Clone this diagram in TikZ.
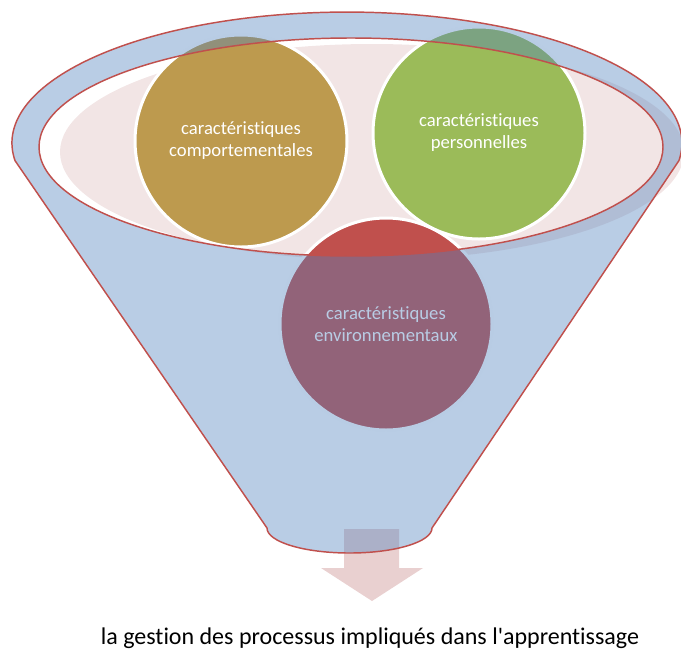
\documentclass[tikz,border=0pt]{standalone}
\usepackage{fontspec}
\setmainfont{Carlito}[Ligatures={NoCommon}]
\definecolor{blueov}{HTML}{4F81BD}
\definecolor{redc}{HTML}{C0504D}
\definecolor{goldc}{HTML}{BD9A4E}
\definecolor{greenc}{HTML}{9BBB59}
\definecolor{pinkc}{HTML}{F2E5E5}
\definecolor{arrowc}{HTML}{E9D0D0}
\begin{document}
\begin{tikzpicture}[x=0.75pt,y=-0.75pt,
  circ/.style={circle, minimum size=159pt, inner sep=0pt, outer sep=0pt,
    draw=white, line width=2.25pt, text=white, align=center,
    font=\fontsize{14}{16.5}\selectfont},
  outline/.style={draw=redc, line width=1.1pt}]
\useasboundingbox (0,0) rectangle (681,651);
\def\funnelpath{(15,160.6) arc[start angle=172.3, end angle=367.7, x radius=335, y radius=131] -- (432,528) arc[start angle=0, end angle=180, x radius=82.5, y radius=25] -- cycle}
% block arrow
\fill[arrowc] (344,529) -- (399,529) -- (399,568) -- (423,568) -- (372,601) -- (321,568) -- (344,568) -- cycle;
% opening interior
\fill[pinkc] (372,152) ellipse[x radius=312, y radius=108];
% circles
\node[circ, fill=redc] (env) at (386,324) {caractéristiques\\environnementaux};
\node[circ, fill=goldc] (cpt) at (241,141) {caractéristiques\\comportementales};
\node[circ, fill=greenc] (per) at (479,133) {caractéristiques\\personnelles};
% funnel body (translucent)
\fill[blueov, fill opacity=0.4, even odd rule] \funnelpath (351,147) ellipse[x radius=312, y radius=109];
% outlines
\draw[outline] \funnelpath;
\draw[outline] (351,147) ellipse[x radius=312, y radius=109];
% caption
\node[anchor=base, inner sep=0pt, font=\fontsize{18}{22}\selectfont] (lbl) at (370,644) {la gestion des processus impliqués dans l\textquotesingle apprentissage};
\end{tikzpicture}
\end{document}
